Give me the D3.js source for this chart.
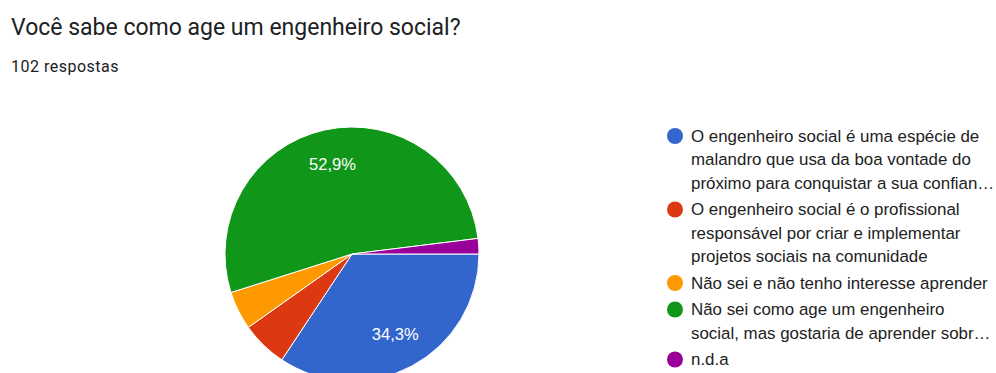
<!DOCTYPE html>
<html>
<head>
<meta charset="utf-8">
<script src="https://cdn.jsdelivr.net/npm/d3@7"></script>
<style>
  body { margin: 0; background: #fff; }
  svg { display: block; }
</style>
</head>
<body>
<svg id="chart" width="996" height="373"></svg>
<script>
// dados
const categories = [
  "O engenheiro social é uma espécie de malandro que usa da boa vontade do próximo para conquistar a sua confian…",
  "O engenheiro social é o profissional responsável por criar e implementar projetos sociais na comunidade",
  "Não sei e não tenho interesse aprender",
  "Não sei como age um engenheiro social, mas gostaria de aprender sobr…",
  "n.d.a"
];
const legendLines = [
  ["O engenheiro social é uma espécie de", "malandro que usa da boa vontade do", "próximo para conquistar a sua confian…"],
  ["O engenheiro social é o profissional", "responsável por criar e implementar", "projetos sociais na comunidade"],
  ["Não sei e não tenho interesse aprender"],
  ["Não sei como age um engenheiro", "social, mas gostaria de aprender sobr…"],
  ["n.d.a"]
];
const counts = [35, 6, 5, 54, 2];
const colors = ["#3366cc", "#dc3912", "#ff9900", "#109618", "#990099"];
const title = "Você sabe como age um engenheiro social?";
const subtitle = "102 respostas";

const svg = d3.select("#chart");

svg.append("text")
  .attr("x", 11).attr("y", 35)
  .attr("font-family", "Roboto, sans-serif")
  .attr("font-size", 23)
  .attr("fill", "#202124")
  .text(title);

svg.append("text")
  .attr("x", 11).attr("y", 72)
  .attr("font-family", "Roboto, sans-serif")
  .attr("font-size", 16)
  .attr("letter-spacing", 0.5)
  .attr("fill", "#202124")
  .text(subtitle);

// pizza
const cx = 352, cy = 254, radius = 127;
const total = d3.sum(counts);

const pie = d3.pie()
  .value(d => d)
  .sort(null)
  .startAngle(Math.PI / 2)
  .endAngle(Math.PI / 2 + 2 * Math.PI);

const arc = d3.arc().innerRadius(0).outerRadius(radius);
const labelArc = d3.arc().innerRadius(radius * 0.72).outerRadius(radius * 0.72);

const g = svg.append("g").attr("transform", `translate(${cx},${cy})`);
const arcs = pie(counts);

g.selectAll("path")
  .data(arcs)
  .enter()
  .append("path")
  .attr("d", arc)
  .attr("fill", (d, i) => colors[i])
  .attr("stroke", "#fff")
  .attr("stroke-width", 1);

const fmt = v => (v * 100).toFixed(1).replace(".", ",") + "%";

g.selectAll("text.pct")
  .data(arcs.filter(d => d.value / total > 0.1))
  .enter()
  .append("text")
  .attr("class", "pct")
  .attr("transform", d => `translate(${labelArc.centroid(d)})`)
  .attr("text-anchor", "middle")
  .attr("dy", "0.35em")
  .attr("font-family", "Liberation Sans, Arial, sans-serif")
  .attr("font-size", 16.5)
  .attr("fill", "#fff")
  .text(d => fmt(d.value / total));

// legenda
const legend = svg.append("g");
const lineH = 23.5, itemGap = 3;
let y = 136;
legendLines.forEach((lines, i) => {
  legend.append("circle")
    .attr("cx", 675).attr("cy", y)
    .attr("r", 8)
    .attr("fill", colors[i]);
  lines.forEach((ln, j) => {
    legend.append("text")
      .attr("x", 691).attr("y", y + j * lineH)
      .attr("dy", "0.35em")
      .attr("font-family", "Liberation Sans, Arial, sans-serif")
      .attr("font-size", 16.9)
      .attr("fill", "#222")
      .text(ln);
  });
  y += lines.length * lineH + itemGap;
});
</script>
</body>
</html>
